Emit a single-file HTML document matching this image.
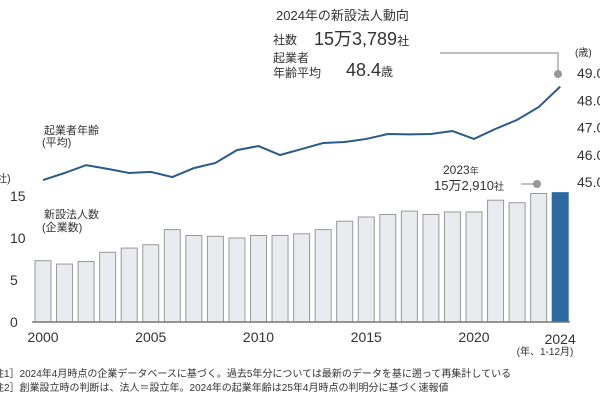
<!DOCTYPE html>
<html><head><meta charset="utf-8"><style>
body{margin:0;background:#fff;}
svg text{font-family:"Liberation Sans","Noto Sans CJK JP",sans-serif;fill:#333;}
</style></head><body>
<svg id="chart" width="600" height="400" viewBox="0 0 600 400" xmlns="http://www.w3.org/2000/svg">
<g id="bars"></g>
<g id="axes"></g>
<path id="ageLine" fill="none" stroke="#2c5a88" stroke-width="2"/>
<text x="276" y="20" font-size="13">2024年の新設法人動向</text>
<text x="273" y="44" font-size="12">社数</text>
<text x="314" y="45" font-size="18">15万3,789<tspan font-size="12">社</tspan></text>
<text x="273" y="62" font-size="12">起業者</text>
<text x="273" y="77" font-size="12">年齢平均</text>
<text x="346" y="76" font-size="18">48.4<tspan font-size="12">歳</tspan></text>
<polyline points="440,53 558,53 558,72" fill="none" stroke="#999" stroke-width="1.2"/>
<circle cx="558" cy="74" r="4" fill="#999"/>
<text x="44" y="134" font-size="11">起業者年齢</text>
<text x="42" y="146" font-size="11">(平均)</text>
<text x="44" y="218" font-size="11">新設法人数</text>
<text x="42" y="231" font-size="11">(企業数)</text>
<text x="443" y="174" font-size="12">2023<tspan font-size="9">年</tspan></text>
<text x="434" y="190" font-size="13">15万2,910<tspan font-size="10">社</tspan></text>
<line x1="521" y1="184" x2="535" y2="184" stroke="#999" stroke-width="1.2"/>
<circle cx="537" cy="184" r="4" fill="#999"/>
<text x="-4" y="182" font-size="11">社)</text>
<text x="575" y="56" font-size="10">(歳)</text>
<text x="545" y="355" font-size="10" text-anchor="middle">(年、1-12月)</text>
<text x="-6" y="377" font-size="10">注1］2024年4月時点の企業データベースに基づく。過去5年分については最新のデータを基に遡って再集計している</text>
<text x="-6" y="391" font-size="10">注2］創業設立時の判断は、法人＝設立年。2024年の起業年齢は25年4月時点の判明分に基づく速報値</text>
</svg>
<script>
const years=[2000,2001,2002,2003,2004,2005,2006,2007,2008,2009,2010,2011,2012,2013,2014,2015,2016,2017,2018,2019,2020,2021,2022,2023,2024];
const companies=[7.3,6.9,7.2,8.3,8.8,9.2,11.0,10.3,10.2,10.0,10.3,10.3,10.5,11.0,12.0,12.5,12.8,13.2,12.8,13.1,13.1,14.5,14.2,15.3,15.4];
const ages=[45.07,45.33,45.62,45.48,45.33,45.37,45.18,45.51,45.70,46.17,46.32,45.99,46.21,46.43,46.47,46.58,46.76,46.75,46.76,46.87,46.58,46.95,47.28,47.75,48.5];
const leftTicks=[0,5,10,15];
const rightTicks=[45,46,47,48,49];
const xTicks=[2000,2005,2010,2015,2020,2024];
const NS="http://www.w3.org/2000/svg";
const x=y=>43+(y-2000)*21.55;
const yL=v=>322-v*8.4;
const yR=v=>182-(v-45)*27.25;
const bars=document.getElementById('bars'),axes=document.getElementById('axes');
function mk(tag,attrs,parent){const e=document.createElementNS(NS,tag);for(const k in attrs)e.setAttribute(k,attrs[k]);parent.appendChild(e);return e;}
years.forEach((yr,i)=>{
  const last=i===years.length-1;
  const r=mk('rect',{x:x(yr)-8,y:yL(companies[i]),width:16,height:322-yL(companies[i]),fill:last?'#2e6aa0':'#e9ebee',stroke:last?'#2e6aa0':'#999','stroke-width':1},bars);
  
  
});
const base=mk('line',{x1:32,x2:570,y1:322,y2:322,stroke:'#777','stroke-width':1.5},axes);


leftTicks.forEach(v=>{const t=mk('text',{x:10,y:yL(v)+5,'font-size':14},axes);t.textContent=v;

});
rightTicks.forEach(v=>{const t=mk('text',{x:577,y:yR(v)+5,'font-size':14},axes);t.textContent=v.toFixed(1);

});
xTicks.forEach(v=>{const t=mk('text',{x:x(v),y:v===2024?344:342,'font-size':14,'text-anchor':'middle'},axes);t.textContent=v;

});
document.getElementById('ageLine').setAttribute('d',years.map((yr,i)=>(i?'L':'M')+x(yr)+','+yR(ages[i])).join(''));
</script>
</body></html>
